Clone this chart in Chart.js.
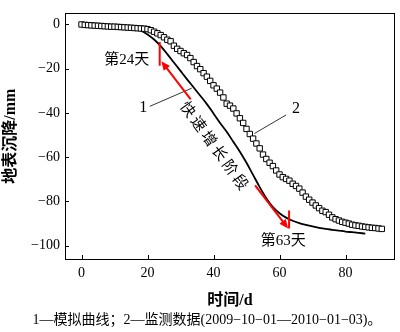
<!DOCTYPE html>
<html>
<head>
<meta charset="utf-8">
<script src="https://cdn.jsdelivr.net/npm/chart.js@4"></script>
<style>
html,body{margin:0;padding:0;background:#fff;}
#wrap{width:400px;height:332px;}
</style>
</head>
<body>
<div id="wrap"><canvas id="c" width="400" height="332"></canvas></div>
<script>
// ---- data ----
const monitorDays = [0,1,2,3,4,5,6,7,8,9,10,11,12,13,14,15,16,17,18,19,20,21,22,23,24,25,26,27,28,29,30,31,32,33,34,35,36,37,38,39,40,41,42,43,44,45,46,47,48,49,50,51,52,53,54,55,56,57,58,59,60,61,62,63,64,65,66,67,68,69,70,71,72,73,74,75,76,77,78,79,80,81,82,83,84,85,86,87,88,89,90,91];
const monitorValues = [0,-0.2,-0.3,-0.4,-0.5,-0.6,-0.7,-0.8,-0.9,-1.0,-1.0,-1.1,-1.2,-1.3,-1.4,-1.5,-1.6,-1.7,-1.8,-1.9,-2.1,-2.6,-3.3,-4.0,-4.8,-5.8,-6.9,-7.6,-9.6,-11.0,-12.0,-13.0,-13.8,-15.2,-17.0,-18.8,-20.2,-22.0,-23.6,-25.5,-27.5,-29.0,-30.8,-33.0,-35.8,-36.7,-38.0,-40.2,-42.4,-44.5,-47.2,-49.5,-51.6,-53.8,-56.0,-58.8,-60.8,-62.5,-64.0,-66.0,-67.8,-69.0,-69.8,-70.6,-72.0,-73.0,-74.2,-76.0,-77.8,-79.2,-80.5,-81.8,-83.0,-84.2,-84.8,-86.0,-87.2,-88.0,-88.6,-89.2,-89.6,-90.0,-90.5,-90.8,-91.0,-91.3,-91.5,-91.7,-91.9,-92.0,-92.2,-92.4];
const simDays = [0,2,4,6,8,10,12,14,16,18,20,22,24,26,28,30,32,34,36,38,40,42,44,46,48,50,52,54,56,58,60,62,64,66,68,70,72,74,76,78,80,82,84,86];
const simValues = [0,-0.1,-0.2,-0.3,-0.4,-0.5,-0.8,-1.2,-1.8,-2.8,-4.5,-6.8,-9.8,-13.4,-17.2,-21.0,-24.8,-28.5,-32.2,-36.0,-40.2,-44.5,-48.5,-53.0,-57.5,-62.5,-68.0,-73.5,-78.5,-82.5,-85.3,-87.3,-88.7,-89.8,-90.6,-91.3,-91.9,-92.4,-92.8,-93.2,-93.6,-93.9,-94.2,-94.5];
const xTicks = [0,20,40,60,80];
const yTicks = [0,-20,-40,-60,-80,-100];
const xTitle = '时间/d';
const yTitle = '地表沉降/mm';
const caption = '1—模拟曲线；2—监测数据(2009−10−01—2010−01−03)。';
const label24 = '第24天';
const label63 = '第63天';
const stageLabel = '快速增长阶段';

const SERIF = '"Liberation Serif","Times New Roman","Noto Sans CJK SC",serif';

function fmt(v){ return v < 0 ? '\u2212' + Math.abs(v) : String(v); }

const overlay = {
  id: 'overlay',
  afterDatasetsDraw(chart){
    const ctx = chart.ctx, xs = chart.scales.x, ys = chart.scales.y, a = chart.chartArea;
    const X = v => xs.getPixelForValue(v), Y = v => ys.getPixelForValue(v);
    ctx.save();
    // frame
    ctx.strokeStyle = '#000'; ctx.lineWidth = 1;
    ctx.strokeRect(Math.round(a.left)+0.5, Math.round(a.top)+0.5, Math.round(a.right-a.left)-1, Math.round(a.bottom-a.top));
    // inner ticks
    ctx.beginPath();
    xTicks.forEach(t => { const px = Math.round(X(t))+0.5; ctx.moveTo(px, a.bottom); ctx.lineTo(px, a.bottom-4); });
    yTicks.forEach(t => { const py = Math.round(Y(t))+0.5; ctx.moveTo(a.left, py); ctx.lineTo(a.left+4, py); });
    ctx.stroke();
    // leader lines
    ctx.lineWidth = 0.8;
    ctx.beginPath();
    ctx.moveTo(X(20.7), Y(-37)); ctx.lineTo(X(33.4), Y(-28.8));
    ctx.moveTo(X(62), Y(-40.9)); ctx.lineTo(X(52.4), Y(-49.3));
    ctx.stroke();
    ctx.fillStyle = '#000';
    ctx.font = '16px ' + SERIF;
    ctx.textAlign = 'center'; ctx.textBaseline = 'middle';
    ctx.fillText('1', X(18.7), Y(-37.5));
    ctx.fillText('2', X(65), Y(-38.2));
    ctx.font = '15px ' + SERIF;
    ctx.fillText(label24, X(13.7), Y(-15.9));
    ctx.fillText(label63, X(61.1), Y(-97.9));
    // rotated stage label, one glyph at a time along the curve
    const p0x = X(32.0), p0y = Y(-38.7), p1x = X(47.9), p1y = Y(-71.6);
    const ang = Math.atan2(p1y - p0y, p1x - p0x);
    const chars = Array.from(stageLabel);
    ctx.font = '15px ' + SERIF;
    chars.forEach((ch, i) => {
      const t = i / (chars.length - 1);
      ctx.save();
      ctx.translate(p0x + (p1x - p0x) * t, p0y + (p1y - p0y) * t);
      ctx.rotate(ang);
      ctx.fillText(ch, 0, 0);
      ctx.restore();
    });
    // red arrows
    ctx.strokeStyle = '#ff0000'; ctx.fillStyle = '#ff0000'; ctx.lineWidth = 2;
    function arrow(x0,y0,x1,y1){
      const px0=X(x0),py0=Y(y0),px1=X(x1),py1=Y(y1);
      const an=Math.atan2(py1-py0,px1-px0);
      ctx.beginPath(); ctx.moveTo(px0,py0); ctx.lineTo(px1-6*Math.cos(an),py1-6*Math.sin(an)); ctx.stroke();
      ctx.beginPath(); ctx.moveTo(px1,py1);
      ctx.lineTo(px1-9*Math.cos(an)+4*Math.sin(an), py1-9*Math.sin(an)-4*Math.cos(an));
      ctx.lineTo(px1-9*Math.cos(an)-4*Math.sin(an), py1-9*Math.sin(an)+4*Math.cos(an));
      ctx.closePath(); ctx.fill();
    }
    arrow(33.1,-33.9,24.2,-16.6);
    arrow(52.6,-72.7,62.6,-92.2);
    ctx.beginPath();
    ctx.moveTo(X(23.7), Y(-7.9)); ctx.lineTo(X(23.7), Y(-18.7));
    ctx.moveTo(X(62.9), Y(-84.1)); ctx.lineTo(X(62.9), Y(-92.2));
    ctx.stroke();
    // caption
    ctx.fillStyle = '#000';
    ctx.font = '14px ' + SERIF;
    ctx.textAlign = 'center'; ctx.textBaseline = 'middle';
    ctx.fillText(caption, 207, 320);
    ctx.restore();
  }
};

new Chart(document.getElementById('c'), {
  type: 'scatter',
  data: {
    datasets: [
      {
        label: '1',
        data: simDays.map((d,i)=>({x:d,y:simValues[i]})),
        showLine: true, borderColor: '#000', borderWidth: 1.8, pointRadius: 0,
        cubicInterpolationMode: 'monotone', fill: false, order: 2
      },
      {
        label: '2',
        data: monitorDays.map((d,i)=>({x:d,y:monitorValues[i]})),
        showLine: false, pointStyle: 'rect', pointRadius: 3.8,
        pointBackgroundColor: '#fff', pointBorderColor: '#000', pointBorderWidth: 1, order: 1
      }
    ]
  },
  options: {
    responsive: false, animation: false, devicePixelRatio: 1,
    layout: { padding: { top: 2, right: 3, left: 0, bottom: 0 } },
    plugins: { legend: { display: false }, tooltip: { enabled: false } },
    scales: {
      x: {
        type: 'linear', min: -5, max: 95,
        afterBuildTicks: s => { s.ticks = xTicks.map(v=>({value:v})); },
        afterFit: s => { s.height = 73; },
        grid: { display: false, drawTicks: false },
        border: { display: false },
        ticks: { color: '#000', padding: 6, font: { family: SERIF, size: 14 }, callback: v => fmt(v), maxRotation: 0 },
        title: { display: true, text: xTitle, color: '#000', font: { family: SERIF, size: 16, weight: 'bold' }, padding: { top: 0, bottom: 22 } }
      },
      y: {
        type: 'linear', min: -106, max: 5,
        afterBuildTicks: s => { s.ticks = yTicks.map(v=>({value:v})); },
        afterFit: s => { s.width = 65; },
        grid: { display: false, drawTicks: false },
        border: { display: false },
        ticks: { color: '#000', padding: 5, font: { family: SERIF, size: 14 }, callback: v => fmt(v) },
        title: { display: true, text: yTitle, color: '#000', font: { family: SERIF, size: 16, weight: 'bold' }, padding: { top: 1, bottom: 0 } }
      }
    }
  },
  plugins: [overlay]
});
</script>
</body>
</html>
